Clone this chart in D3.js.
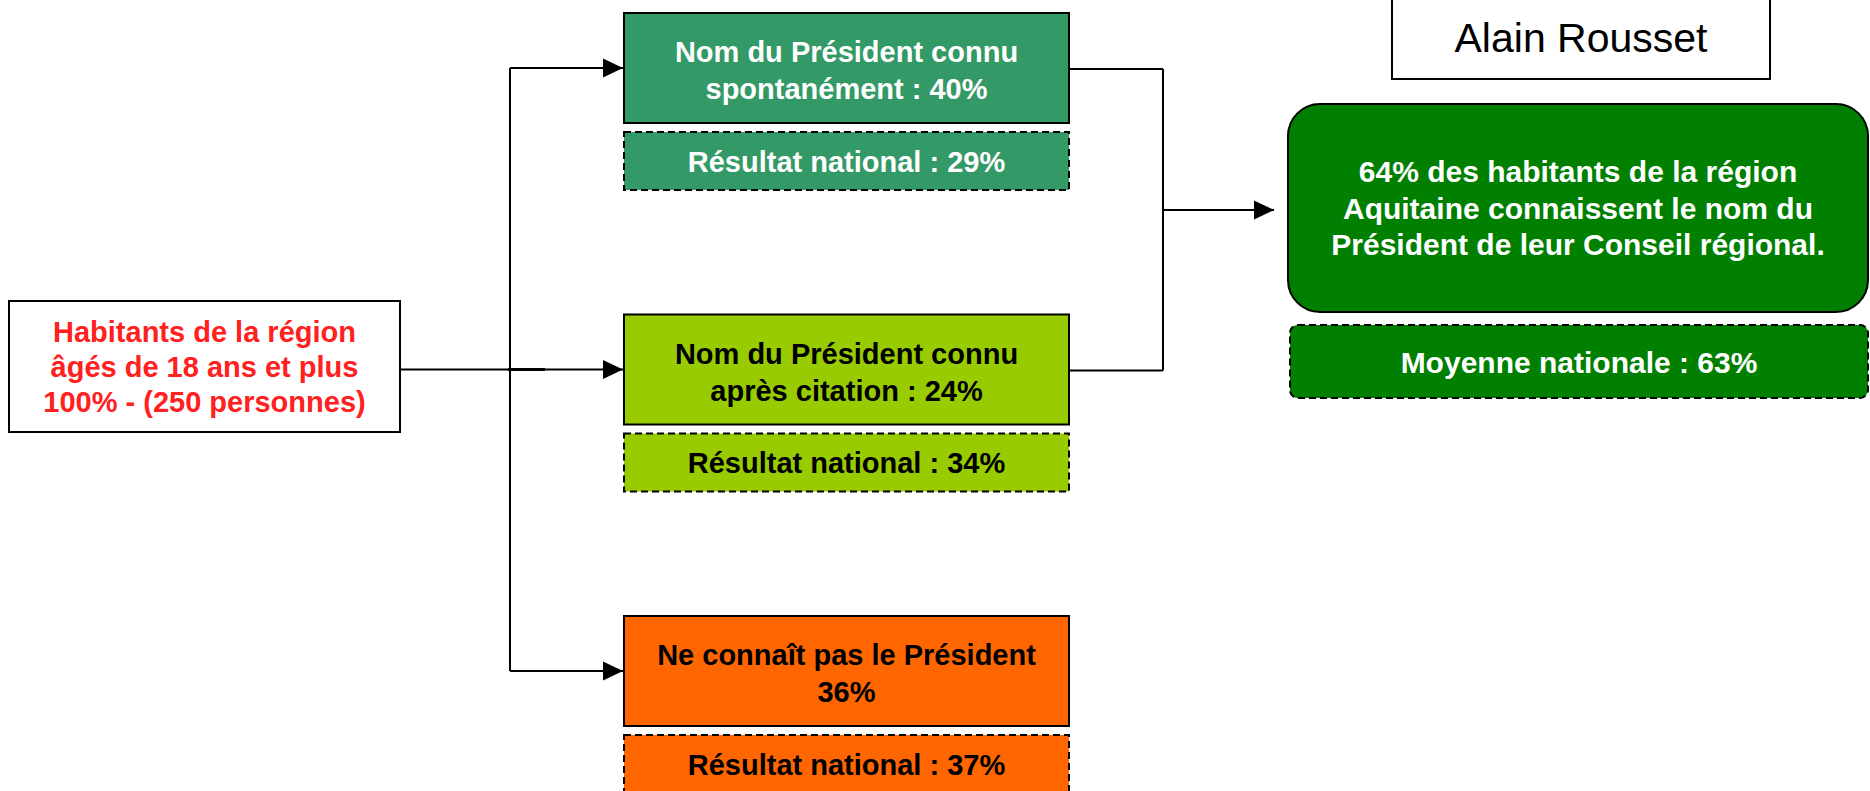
<!DOCTYPE html>
<html>
<head>
<meta charset="utf-8">
<script src="https://cdn.jsdelivr.net/npm/d3@7"></script>
<style>
  body { margin: 0; background: #fff; }
  text { font-family: "Liberation Sans", Arial, sans-serif; }
</style>
</head>
<body>
<svg></svg>
<script>
var width = 1870;
var height = 791;

// data
const categories = ["spontane", "citation", "inconnu"];
const labelLine1 = ["Nom du Président connu", "Nom du Président connu", "Ne connaît pas le Président"];
const labelLine2 = ["spontanément : ", "après citation : ", ""];
const regionValues = [40, 24, 36];
const nationalValues = [29, 34, 37];
const fillColors = ["#339966", "#99cc00", "#ff6600"];
const textColors = ["#ffffff", "#000000", "#000000"];
const sourceLines = ["Habitants de la région", "âgés de 18 ans et plus", "100% - (250 personnes)"];
const presidentName = "Alain Rousset";
const knownTotal = 64;
const nationalAverage = 63;
const resultLines = [knownTotal + "% des habitants de la région", "Aquitaine connaissent le nom du", "Président de leur Conseil régional."];

const svg = d3.select("svg")
    .attr("width", width)
    .attr("height", height);

svg.append("defs").append("marker")
    .attr("id", "arrow")
    .attr("markerUnits", "userSpaceOnUse")
    .attr("markerWidth", 20)
    .attr("markerHeight", 20)
    .attr("viewBox", "0 0 18 18")
    .attr("refX", 18)
    .attr("refY", 9)
    .attr("orient", "auto")
    .append("path")
    .attr("d", "M0,0.5 L18,9 L0,17.5 Z")
    .attr("fill", "#000");

// row positions
const y = d3.scalePoint()
    .domain(categories)
    .range([13, 616]);

const boxX = 624, boxW = 445, boxH = 110;
const dashOff = 119, dashH = 58;
const spineX = 510;

// source box (left)
const src = svg.append("g");
src.append("rect")
    .attr("x", 9).attr("y", 301)
    .attr("width", 391).attr("height", 131)
    .attr("fill", "#fff")
    .attr("stroke", "#000")
    .attr("stroke-width", 2);
src.selectAll("text")
    .data(sourceLines)
    .enter().append("text")
    .attr("x", 204.5)
    .attr("y", (d, i) => 342 + i * 35)
    .attr("text-anchor", "middle")
    .attr("font-size", 29)
    .attr("font-weight", "bold")
    .attr("fill", "#ff2020")
    .text(d => d);

// left connectors
const cy = c => y(c) + boxH / 2;
svg.append("line")
    .attr("x1", 400).attr("y1", cy(categories[1]))
    .attr("x2", spineX).attr("y2", cy(categories[1]))
    .attr("stroke", "#000").attr("stroke-width", 2);
svg.append("line")
    .attr("x1", spineX).attr("y1", cy(categories[0]))
    .attr("x2", spineX).attr("y2", cy(categories[2]))
    .attr("stroke", "#000").attr("stroke-width", 2);
svg.append("line")
    .attr("x1", spineX - 2).attr("y1", cy(categories[1]))
    .attr("x2", 545).attr("y2", cy(categories[1]))
    .attr("stroke", "#000").attr("stroke-width", 3);
svg.selectAll(".arrow-in")
    .data(categories)
    .enter().append("line")
    .attr("class", "arrow-in")
    .attr("x1", spineX).attr("x2", boxX - 1)
    .attr("y1", d => cy(d)).attr("y2", d => cy(d))
    .attr("stroke", "#000").attr("stroke-width", 2)
    .attr("marker-end", "url(#arrow)");

// category boxes
const rows = svg.selectAll(".row")
    .data(categories)
    .enter().append("g")
    .attr("class", "row");

rows.append("rect")
    .attr("x", boxX).attr("y", d => y(d))
    .attr("width", boxW).attr("height", boxH)
    .attr("fill", (d, i) => fillColors[i])
    .attr("stroke", "#000").attr("stroke-width", 2);

rows.append("text")
    .attr("x", boxX + boxW / 2)
    .attr("y", d => y(d) + boxH / 2 - 6)
    .attr("text-anchor", "middle")
    .attr("font-size", 29).attr("font-weight", "bold")
    .attr("fill", (d, i) => textColors[i])
    .text((d, i) => labelLine1[i]);

rows.append("text")
    .attr("x", boxX + boxW / 2)
    .attr("y", d => y(d) + boxH / 2 + 31)
    .attr("text-anchor", "middle")
    .attr("font-size", 29).attr("font-weight", "bold")
    .attr("fill", (d, i) => textColors[i])
    .text((d, i) => labelLine2[i] + regionValues[i] + "%");

rows.append("rect")
    .attr("x", boxX).attr("y", d => y(d) + dashOff)
    .attr("width", boxW).attr("height", dashH)
    .attr("fill", (d, i) => fillColors[i])
    .attr("stroke", "#000").attr("stroke-width", 2)
    .attr("stroke-dasharray", "7,4");

rows.append("text")
    .attr("x", boxX + boxW / 2)
    .attr("y", d => y(d) + dashOff + dashH / 2 + 10.5)
    .attr("text-anchor", "middle")
    .attr("font-size", 29).attr("font-weight", "bold")
    .attr("fill", (d, i) => textColors[i])
    .text((d, i) => "Résultat national : " + nationalValues[i] + "%");

// right connector (known = first two rows)
const joinX = 1163;
const known = categories.slice(0, 2);
svg.selectAll(".arrow-out")
    .data(known)
    .enter().append("line")
    .attr("class", "arrow-out")
    .attr("x1", boxX + boxW).attr("x2", joinX)
    .attr("y1", d => cy(d) + 1).attr("y2", d => cy(d) + 1)
    .attr("stroke", "#000").attr("stroke-width", 2);
svg.append("line")
    .attr("x1", joinX).attr("x2", joinX)
    .attr("y1", cy(known[0]) + 1).attr("y2", cy(known[1]) + 1)
    .attr("stroke", "#000").attr("stroke-width", 2);

const resX = 1288, resY = 104, resW = 580, resH = 208;
const midY = resY + resH / 2 + 2;
svg.append("line")
    .attr("x1", joinX).attr("x2", 1274)
    .attr("y1", midY).attr("y2", midY)
    .attr("stroke", "#000").attr("stroke-width", 2)
    .attr("marker-end", "url(#arrow)");

// president name
svg.append("rect")
    .attr("x", 1392).attr("y", -3)
    .attr("width", 378).attr("height", 82)
    .attr("fill", "#fff")
    .attr("stroke", "#000").attr("stroke-width", 2);
svg.append("text")
    .attr("x", 1581).attr("y", 52)
    .attr("text-anchor", "middle")
    .attr("font-size", 41)
    .attr("fill", "#000")
    .text(presidentName);

// result box
svg.append("rect")
    .attr("x", resX).attr("y", resY)
    .attr("width", resW).attr("height", resH)
    .attr("rx", 32).attr("ry", 32)
    .attr("fill", "#007f00")
    .attr("stroke", "#000").attr("stroke-width", 2);
svg.selectAll(".res-text")
    .data(resultLines)
    .enter().append("text")
    .attr("class", "res-text")
    .attr("x", resX + resW / 2)
    .attr("y", (d, i) => 182 + i * 36.5)
    .attr("text-anchor", "middle")
    .attr("font-size", 30).attr("font-weight", "bold")
    .attr("fill", "#fff")
    .text(d => d);

svg.append("rect")
    .attr("x", 1290).attr("y", 325)
    .attr("width", 578).attr("height", 73)
    .attr("rx", 8).attr("ry", 8)
    .attr("fill", "#007f00")
    .attr("stroke", "#000").attr("stroke-width", 2)
    .attr("stroke-dasharray", "7,4");
svg.append("text")
    .attr("x", 1579).attr("y", 373)
    .attr("text-anchor", "middle")
    .attr("font-size", 30).attr("font-weight", "bold")
    .attr("fill", "#fff")
    .text("Moyenne nationale : " + nationalAverage + "%");
</script>
</body>
</html>
